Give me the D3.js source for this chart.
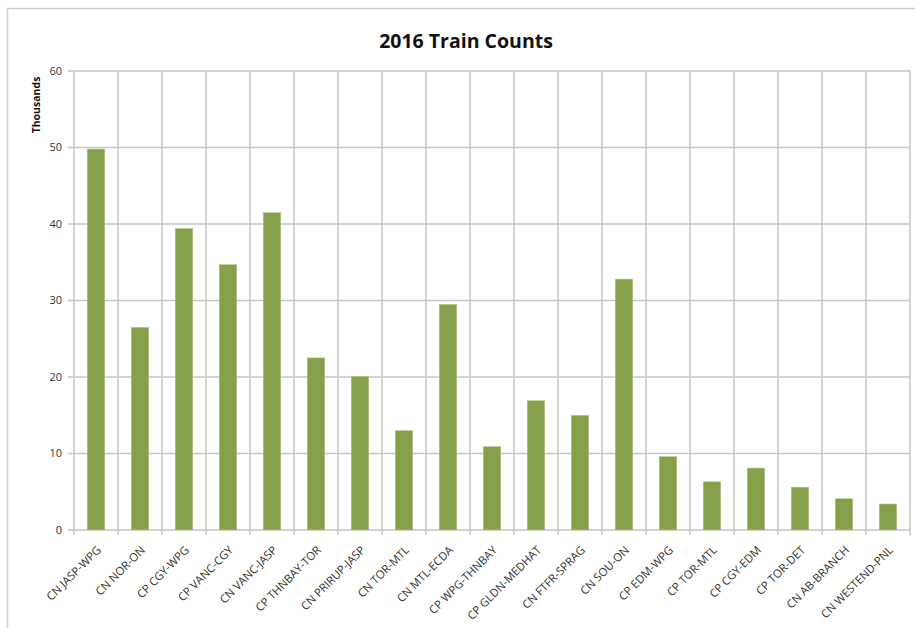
<!DOCTYPE html>
<html><head><meta charset="utf-8">
<script src="https://cdn.jsdelivr.net/npm/d3@7"></script>
<style>
html,body{margin:0;padding:0;background:#fff;}
svg{display:block;font-family:"Open Sans","Liberation Sans",sans-serif;}
</style></head>
<body>
<svg id="chart" width="915" height="628"></svg>
<script>
const categories = ["CN JASP-WPG","CN NOR-ON","CP CGY-WPG","CP VANC-CGY","CN VANC-JASP","CP THNBAY-TOR","CN PRIRUP-JASP","CN TOR-MTL","CN MTL-ECDA","CP WPG-THNBAY","CP GLDN-MEDHAT","CN FTFR-SPRAG","CN SOU-ON","CP EDM-WPG","CP TOR-MTL","CP CGY-EDM","CP TOR-DET","CN AB-BRANCH","CN WESTEND-PNL"];
const values = [49.8,26.5,39.4,34.7,41.5,22.5,20.1,13.0,29.5,10.9,16.9,15.0,32.8,9.6,6.3,8.1,5.6,4.1,3.4];
const yTicks = [0,10,20,30,40,50,60];
const title = "2016 Train Counts";
const yTitle = "Thousands";

const svg = d3.select("#chart");
const m = {left:74, right:910, top:71, bottom:530};

// outer border
svg.append("rect").attr("x",7.5).attr("y",8.5).attr("width",920).attr("height",640)
  .attr("fill","none").attr("stroke","#d0d0d0").attr("stroke-width",1.5);

const x = d3.scaleBand().domain(categories).range([m.left,m.right]).paddingInner(0).paddingOuter(0);
const y = d3.scaleLinear().domain([0,60]).range([m.bottom,m.top]);

// horizontal gridlines
svg.append("g").selectAll("line").data(yTicks).join("line")
  .attr("x1",m.left-6).attr("x2",m.right).attr("y1",d=>y(d)).attr("y2",d=>y(d))
  .attr("stroke","#c6c6c6").attr("stroke-width",1.5);

// vertical gridlines at band boundaries
const bounds = categories.map(c=>x(c)).concat([m.right]);
svg.append("g").selectAll("line").data(bounds).join("line")
  .attr("x1",d=>d).attr("x2",d=>d).attr("y1",m.top).attr("y2",m.bottom+5)
  .attr("stroke","#c6c6c6").attr("stroke-width",1.5);

// bars
const bw = x.bandwidth()*0.4;
svg.append("g").selectAll("rect").data(values).join("rect")
  .attr("x",(d,i)=>x(categories[i])+x.bandwidth()/2-bw/2)
  .attr("width",bw)
  .attr("y",d=>y(d))
  .attr("height",d=>y(0)-y(d))
  .attr("fill","#86a04c").attr("stroke","#b9cd8e").attr("stroke-width",0.6);

// y tick labels
svg.append("g").selectAll("text").data(yTicks).join("text")
  .attr("x",62).attr("y",d=>y(d)).attr("dy","0.35em").attr("text-anchor","end")
  .attr("font-size",11).attr("fill","#333").text(d=>d);

// x labels
svg.append("g").selectAll("text").data(categories).join("text")
  .attr("transform",d=>`translate(${x(d)+x.bandwidth()/2+3},${m.bottom+18}) rotate(-45)`)
  .attr("text-anchor","end").attr("dy","0.35em")
  .attr("font-size",11.4).attr("fill","#333").text(d=>d);

// title
svg.append("text").attr("x",466).attr("y",48).attr("text-anchor","middle")
  .attr("font-size",19.5).attr("font-weight","bold").attr("fill","#111").text(title);

// y title
svg.append("text").attr("transform","translate(40,105) rotate(-90)")
  .attr("text-anchor","middle").attr("font-size",10.5).attr("font-weight","bold").attr("fill","#111").text(yTitle);
</script>
</body></html>
